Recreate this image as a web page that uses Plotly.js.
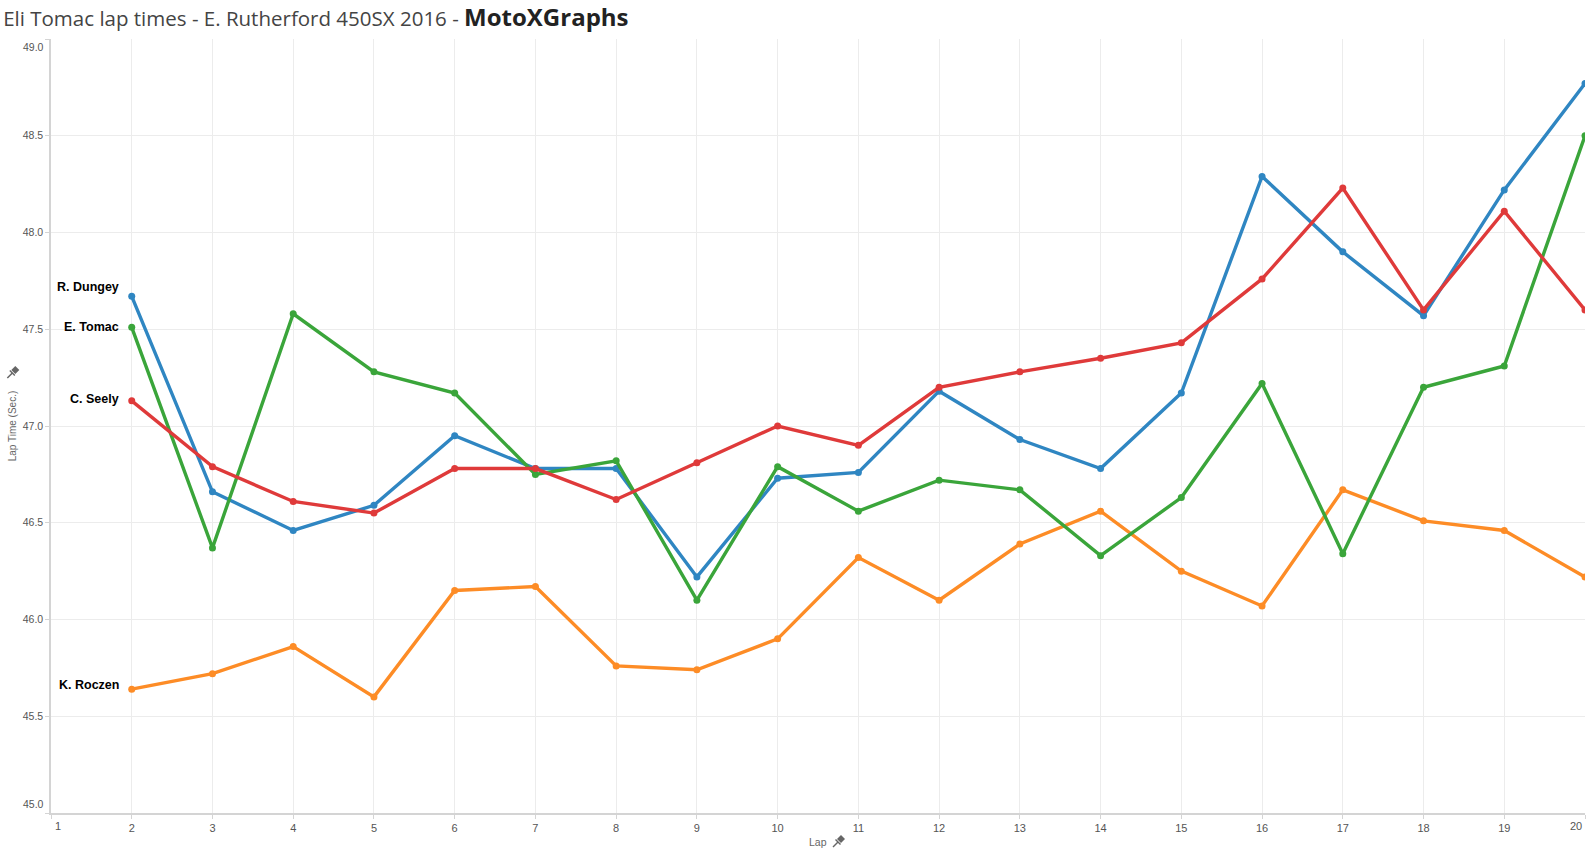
<!DOCTYPE html>
<html>
<head>
<meta charset="utf-8">
<script src="https://cdn.plot.ly/plotly-3.0.1.min.js"></script>
<style>
html,body{margin:0;padding:0;background:#fff;}
#chart{width:1589px;height:851px;}
</style>
</head>
<body>
<div id="chart"></div>
<script>
const laps = [2,3,4,5,6,7,8,9,10,11,12,13,14,15,16,17,18,19,20];
const riders = ["R. Dungey","E. Tomac","C. Seely","K. Roczen"];
const dungey = [47.67,46.66,46.46,46.59,46.95,46.78,46.78,46.22,46.73,46.76,47.18,46.93,46.78,47.17,48.29,47.90,47.57,48.22,48.77];
const tomac  = [47.51,46.37,47.58,47.28,47.17,46.75,46.82,46.10,46.79,46.56,46.72,46.67,46.33,46.63,47.22,46.34,47.20,47.31,48.50];
const seely  = [47.13,46.79,46.61,46.55,46.78,46.78,46.62,46.81,47.00,46.90,47.20,47.28,47.35,47.43,47.76,48.23,47.60,48.11,47.60];
const roczen = [45.64,45.72,45.86,45.60,46.15,46.17,45.76,45.74,45.90,46.32,46.10,46.39,46.56,46.25,46.07,46.67,46.51,46.46,46.22];
const xTicks = [1,2,3,4,5,6,7,8,9,10,11,12,13,14,15,16,17,18,19,20];
const yTicks = [45.0,45.5,46.0,46.5,47.0,47.5,48.0,48.5,49.0];

const series = [dungey, tomac, seely, roczen];
const colors = ["#2f86c2","#3aa53a","#df3a3a","#fd8c26"];
const labelShift = [9, 0, 2, 4];
const order = [3,0,1,2]; // draw order bottom -> top

const tickFont = {family: "Arial, Liberation Sans, sans-serif", size: 11, color: "#555"};
const yTickFont = {family: "Arial, Liberation Sans, sans-serif", size: 10.5, color: "#555"};

const traces = order.map(i => ({
  x: laps, y: series[i], name: riders[i], type: "scatter", mode: "lines+markers",
  line: {color: colors[i], width: 3.4},
  marker: {color: colors[i], size: 7},
  hoverinfo: "x+y+name"
}));

const annotations = riders.map((r, i) => ({
  x: laps[0], y: series[i][0], xref: "x", yref: "y",
  text: "<b>" + r + "</b>", showarrow: false,
  xanchor: "right", yanchor: "middle", xshift: -11, yshift: labelShift[i],
  font: {family: "Arial, Liberation Sans, sans-serif", size: 12.5, color: "#000"}
}));
// edge tick labels, pulled inside like the original
const xFirst = xTicks[0], xLast = xTicks[xTicks.length - 1];
const yFirst = yTicks[0], yLast = yTicks[yTicks.length - 1];
annotations.push({x: xFirst, y: 0, xref: "x", yref: "paper", text: String(xFirst), showarrow: false,
  xanchor: "left", yanchor: "top", xshift: 2, yshift: -5, font: tickFont});
annotations.push({x: xLast, y: 0, xref: "x", yref: "paper", text: String(xLast), showarrow: false,
  xanchor: "right", yanchor: "top", xshift: -1, yshift: -5, font: tickFont});
annotations.push({x: 0, y: yLast, xref: "paper", yref: "y", text: yLast.toFixed(1), showarrow: false,
  xanchor: "right", yanchor: "top", xshift: -5, yshift: 0, font: yTickFont});
annotations.push({x: 0, y: yFirst, xref: "paper", yref: "y", text: yFirst.toFixed(1), showarrow: false,
  xanchor: "right", yanchor: "bottom", xshift: -5, yshift: 1, font: yTickFont});

annotations.push({
  xref: "paper", yref: "paper", x: -0.0252, y: 0.5, yshift: 0,
  xanchor: "center", yanchor: "middle",
  text: "Lap Time (Sec.)", textangle: -90, showarrow: false,
  font: {family: "Arial, Liberation Sans, sans-serif", size: 10, color: "#666"}
});
annotations.push({
  xref: "paper", yref: "paper", x: 0.5, y: 0, yshift: -29,
  text: "Lap", showarrow: false, xanchor: "center", yanchor: "middle",
  font: {family: "Arial, Liberation Sans, sans-serif", size: 10.5, color: "#666"}
});

function pin(px, py) {
  const base = {type: "path", xref: "paper", yref: "paper", xsizemode: "pixel", ysizemode: "pixel",
    xanchor: px, yanchor: py};
  return [
    Object.assign({}, base, {path: "M-1,3 L3,-1 L7,3 L3,7 Z", fillcolor: "#666", line: {width: 0}}),
    Object.assign({}, base, {path: "M-3,2 L2,-3 L3,-2 L-2,3 Z", fillcolor: "#666", line: {width: 0}}),
    Object.assign({}, base, {path: "M0,0 L-5,-5", line: {color: "#666", width: 1.5}})
  ];
}
const shapes = [].concat(pin(-0.0252, (812.7 - 373) / 773.4), pin((838 - 51) / 1534, -29 / 773.4));

const layout = {
  width: 1589, height: 851,
  margin: {l: 51, r: 4, t: 39, b: 38, pad: 0},
  paper_bgcolor: "#fff", plot_bgcolor: "#fff",
  showlegend: false,
  title: {
    text: "Eli Tomac lap times - E. Rutherford 450SX 2016 - <b><span style='font-size:24px;color:#222'>MotoXGraphs</span></b>",
    x: 0.002, xanchor: "left", y: 0.978, yanchor: "middle",
    font: {family: "Open Sans, Noto Sans, sans-serif", size: 20.5, color: "#444"}
  },
  xaxis: {
    range: [1, 20], tickmode: "array", tickvals: xTicks,
    ticktext: xTicks.map((v, i) => (i === 0 || i === xTicks.length - 1) ? "" : String(v)),
    showgrid: true, gridcolor: "#ececec", gridwidth: 1,
    showline: true, linecolor: "#d4d4d4", linewidth: 1.5, mirror: false,
    ticks: "outside", ticklen: 4, tickcolor: "#d4d4d4",
    zeroline: false,
    tickfont: tickFont
  },
  yaxis: {
    range: [45, 49], tickmode: "array", tickvals: yTicks,
    ticktext: yTicks.map((v, i) => (i === 0 || i === yTicks.length - 1) ? "" : v.toFixed(1)),
    showgrid: true, gridcolor: "#ececec", gridwidth: 1,
    showline: true, linecolor: "#d4d4d4", linewidth: 1.5,
    ticks: "outside", ticklen: 4, tickcolor: "#d4d4d4",
    zeroline: false,
    tickfont: yTickFont
  },
  annotations: annotations,
  shapes: shapes
};

Plotly.newPlot("chart", traces, layout, {displayModeBar: false});
</script>
</body>
</html>
